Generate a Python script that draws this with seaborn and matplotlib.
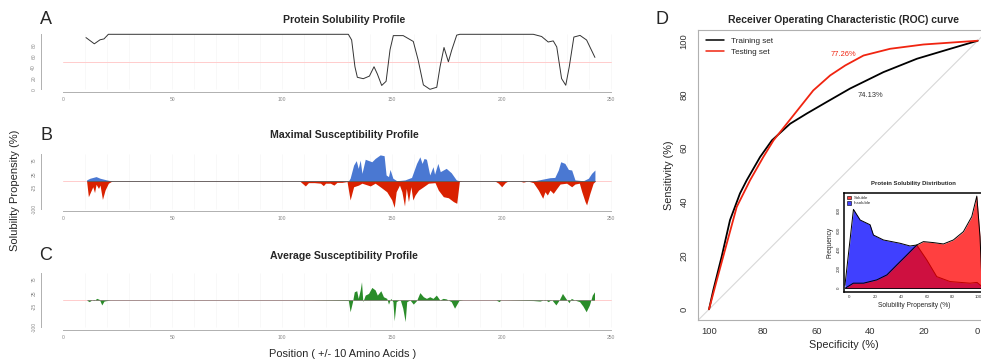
import numpy as np
import pandas as pd
import matplotlib
matplotlib.use("Agg")
import matplotlib.pyplot as plt
import seaborn as sns
from matplotlib.lines import Line2D
from matplotlib.patches import Patch

sns.set_style("white")
plt.rcParams['font.family'] = ['Liberation Sans', 'DejaVu Sans']

# ------------------------------------------------
# Data
# ------------------------------------------------
# A: protein solubility profile
pos_a = [10.6, 14.4, 17, 18.8, 20.8, 130.2, 131.7, 133.2, 134.3, 137, 139.8, 141.9, 143.4, 145.4,
         147.4, 149.2, 150.7, 155.2, 159.8, 162, 164.4, 167.4, 170.5, 172, 173.8, 175.8, 177.3,
         179.6, 181, 214.5, 218.3, 221.3, 223.6, 225.2, 227.4, 229.3, 230.9, 233, 235.8, 238.8, 242.6]
sol_a = [94, 82.7, 90, 91.6, 100, 100, 89.6, 41, 21.8, 19.3, 24, 41, 28, 7,
         14.5, 72, 97.6, 97.6, 87, 53.5, 8, 0, 3.7, 41, 76, 50, 71,
         98.5, 100, 100, 96, 86, 88, 77, 19.5, 7.4, 41, 95, 98, 89.6, 58]

# B: maximal susceptibility (positive / negative)
blue_x = [10.9, 12.4, 15.2, 17, 20, 22.3, 130.2, 131, 132.6, 133.8, 134.7, 135.6, 136.4, 137.9,
          140.9, 142.4, 144.7, 146.5, 147.4, 148.5, 149.2, 150.5, 152.3, 156, 159, 161.3, 162.8,
          163.8, 164.7, 165.8, 167.3, 168.8, 169.5, 171, 172.1, 174.8, 177.1, 179.4, 181, 214.5,
          218.3, 222.1, 224.3, 225.9, 227, 228.9, 230.5, 232, 233.5, 237.3, 239.6, 241.1, 242.6]
blue_y = [4, 10, 16, 10, 4, 0, 0, 10, 58, 74, 46, 76, 28, 79,
          70, 82, 95, 92, 22, 16, 42, 10, 1, 4, 13, 64, 88,
          64, 82, 79, 22, 52, 25, 64, 34, 46, 30, 4, 0, 0,
          6, 12, 13, 40, 70, 64, 42, 40, 4, 1, 10, 28, 40]
red_x = [10.9, 11.7, 12.7, 13.7, 14.5, 15.2, 16.3, 17, 18.1, 19.3, 20.8, 22.3, 23, 108, 110.6,
         112, 114.7, 117.5, 118.8, 119.8, 122, 123.6, 125, 127.3, 129.6, 131, 132.6, 134.8, 136.4,
         140.2, 142.4, 144.7, 147.7, 150, 151.1, 152, 153.5, 154.6, 155.8, 156.6, 157.6, 158.7,
         159.6, 160.6, 162.2, 164.4, 166.7, 169.7, 171.2, 173.5, 175.8, 178.1, 179.6, 180.8, 182,
         197, 198.6, 200.1, 201.7, 203, 208, 210, 212, 214.5, 216.8, 218.8, 219.8, 220.9, 222.1,
         223.6, 225.2, 226.7, 229.7, 232, 233.5, 235.5, 236.6, 238.1, 238.8, 240.3, 241.8, 242.6]
red_y = [-2, -57, -39, -21, -42, -12, -27, -15, -67, -33, -8, -1, 0, 0, -18,
         -6, -6, -8, -17, -8, -8, -15, -5, -5, -2, -69, -21, -15, -8,
         -18, -8, -21, -39, -69, -96, -39, -15, -39, -91, -27, -75, -21,
         -69, -51, -33, -21, -8, -6, -33, -57, -61, -75, -81, -2, 0,
         0, -8, -21, -6, 0, 0, -4, 0, -6, -33, -63, -39, -51, -33,
         -45, -27, -11, -8, -21, -11, -8, -39, -75, -87, -45, -8, -2]

# C: average susceptibility
green_x = [11.2, 12.1, 13.2, 14.3, 15.5, 16.7, 17.8, 18.8, 20.8, 21.6, 110, 130.2, 131, 132.1,
           132.9, 134, 134.7, 135.6, 136.2, 136.8, 137.9, 139.4, 140.9, 142.4, 143.4, 145, 146.2,
           147.7, 148.5, 149.5, 150.5, 151.1, 152, 153.8, 155, 156.1, 156.8, 158.3, 159.8, 161.3,
           162.8, 164.4, 165.8, 167.3, 168.8, 170.3, 171.9, 173.4, 174.8, 177.1, 178.6, 180.6,
           182.4, 197.5, 198.9, 199.7, 214.5, 217.5, 219.8, 221.3, 222.8, 224.8, 226.3, 227.8,
           229.3, 230.8, 231.8, 233.3, 235.6, 237.1, 238.6, 240.1, 241.4, 242.4]
green_y = [-2, -6, 0, -2, 6, 2, -18, -4, -1, 0, 0, -2, -43, -6,
           30, 34, 6, 37, 67, -6, 18, 24, 46, 37, 18, 34, 12,
           6, -15, 6, -6, -76, -6, 2, -30, -79, -6, 0, -15, -2,
           27, 12, 6, 12, 6, 18, 0, 6, 4, -6, -30, -2,
           0, 0, -6, 0, -2, -4, 2, -6, 2, -18, 0, 24,
           6, -10, 6, 0, -6, -22, -43, -18, 18, 30]

# D: ROC curves
spec_train = [100, 98.4, 95.3, 92.2, 88.5, 86, 81, 76.6, 69.8, 63.6, 56.2, 47.5, 35.1, 22.6, 10.2, 0]
sens_train = [0, 7.2, 19.6, 33.2, 43.1, 48, 56.7, 62.9, 69.1, 72.9, 77.2, 82.2, 88.3, 93.3, 97, 100]
spec_test = [100, 97.1, 93.4, 89.7, 84.7, 79.8, 76, 68.6, 61.2, 54.9, 49.3, 42.5, 32.6, 20.2, 0]
sens_test = [0, 10.9, 24.5, 38.1, 48.1, 56.7, 62.9, 72.2, 81.5, 87.1, 90.8, 94.5, 97, 98.6, 100]
auc_labels = ['77.26%', '74.13%']

# D inset: solubility distribution
sol_x = [-3.3, 3, 10.9, 21.2, 29, 36.7, 44.5, 52.2, 57.4, 65.1, 72.9, 80.6, 88.4, 94.9, 98.8, 101.3, 103]
sol_y = [0, 52, 52, 86, 137, 240, 343, 446, 481, 471, 457, 498, 584, 739, 951, 532, 0]
insol_x = [-3.5, 3.1, 8.3, 16, 18.6, 26.4, 39.3, 47, 52.2, 60, 67.7, 78, 93.5, 99, 103]
insol_y = [30, 814, 704, 655, 549, 498, 464, 436, 446, 292, 120, 69, 52, 60, 15]

# ------------------------------------------------
# Layout helpers (pixel boxes)
# ------------------------------------------------
W, H = 981, 359
fig = plt.figure(figsize=(W / 100, H / 100), dpi=100)


def px_axes(left, top, right, bottom):
    return fig.add_axes([left / W, 1 - bottom / H, (right - left) / W, (bottom - top) / H])


def fx(x):
    return x / W


def fy(y):
    return 1 - y / H


def style_profile(ax, ylim, yticks, ylabels):
    ax.set_xlim(-10, 260)
    ax.set_ylim(*ylim)
    ax.set_facecolor('none')
    for s in ['top', 'right']:
        ax.spines[s].set_visible(False)
    for s in ['left', 'bottom']:
        ax.spines[s].set_color('#b0b0b0')
        ax.spines[s].set_linewidth(0.7)
    ax.spines['left'].set_bounds(yticks[0], yticks[-1])
    ax.spines['bottom'].set_bounds(0, 250)
    ax.set_xticks([0, 50, 100, 150, 200, 250])
    ax.set_yticks(yticks)
    ax.set_yticklabels(ylabels, rotation=90, va='center')
    ax.tick_params(axis='both', length=2.2, width=0.5, color='#b0b0b0', labelsize=3.6,
                   labelcolor='#888888', pad=1.5, direction='out')
    ax.tick_params(axis='y', pad=1.0)
    ax.vlines(np.arange(10, 251, 10), yticks[0], yticks[-1], color='#f5f5f5', lw=0.5, zorder=0)
    ax.set_xlabel('')
    ax.set_ylabel('')


# ------------------------------------------------
# Panel A
# ------------------------------------------------
axA = px_axes(40.8, 32.1, 633.1, 91.5)
style_profile(axA, (-4, 104), [0, 20, 40, 60, 80, 100], ['0', '20', '40', '60', '80', ''])
axA.axhline(50, xmin=10 / 270, xmax=260 / 270, color='#ffcccc', lw=0.7, zorder=1)
sns.lineplot(x=pos_a, y=sol_a, ax=axA, color='#333333', linewidth=0.7, sort=False)
axA.set_xlabel('')
axA.set_ylabel('')

# ------------------------------------------------
# Panel B
# ------------------------------------------------
b_ticks = [-100, -75, -50, -25, 0, 25, 50, 75, 100]
b_labels = ['-100', '', '', '-25', '', '25', '', '75', '']
axB = px_axes(40.8, 151.3, 633.1, 210.7)
style_profile(axB, (-108, 108), b_ticks, b_labels)
axB.axhline(0, xmin=10 / 270, xmax=260 / 270, color='#ffcccc', lw=0.7, zorder=1)
axB.fill_between(blue_x, 0, blue_y, color='#4a78d2', lw=0, zorder=2)
axB.fill_between(red_x, red_y, 0, color='#d92100', lw=0, zorder=2)
sns.lineplot(x=[10.9, 242.6], y=[0, 0], ax=axB, color='#555555', linewidth=0.6)
axB.set_xlabel('')
axB.set_ylabel('')

# ------------------------------------------------
# Panel C
# ------------------------------------------------
axC = px_axes(40.8, 270.5, 633.1, 329.5)
style_profile(axC, (-108, 108), b_ticks, b_labels)
axC.axhline(0, xmin=10 / 270, xmax=260 / 270, color='#ffcccc', lw=0.7, zorder=1)
axC.fill_between(green_x, 0, green_y, color='#2a8c2a', lw=0, zorder=2)
sns.lineplot(x=[11.2, 242.4], y=[0, 0], ax=axC, color='#666666', linewidth=0.4)
axC.set_xlabel('')
axC.set_ylabel('')

# titles, letters, shared labels
for letter, title, y in [('A', 'Protein Solubility Profile', 20),
                         ('B', 'Maximal Susceptibility Profile', 135),
                         ('C', 'Average Susceptibility Profile', 256)]:
    fig.text(fx(46), fy(y), letter, fontsize=13, ha='center', va='center')
    fig.text(fx(344), fy(y), title, fontsize=7.6, fontweight='bold', ha='center', va='center')

fig.text(fx(15), fy(190), 'Solubility Propensity (%)', fontsize=8, rotation=90,
         ha='center', va='center')
fig.text(fx(343), fy(354), 'Position ( +/- 10 Amino Acids )', fontsize=7.9,
         ha='center', va='center')

# ------------------------------------------------
# Panel D: ROC
# ------------------------------------------------
axD = px_axes(698.3, 30, 988.4, 320)
axD.set_xlim(104, -4)
axD.set_ylim(-4, 104)
axD.plot([104, -4], [-4, 104], color='#d8d8d8', lw=0.8, zorder=1)
sns.lineplot(x=spec_train, y=sens_train, ax=axD, color='black', linewidth=1.3, sort=False, zorder=3)
sns.lineplot(x=spec_test, y=sens_test, ax=axD, color='#f02410', linewidth=1.3, sort=False, zorder=3)
axD.text(50, 94.8, auc_labels[0], color='#f02410', fontsize=5.4, ha='center', va='center')
axD.text(40, 79.7, auc_labels[1], color='#333333', fontsize=5.4, ha='center', va='center')
axD.set_xticks([100, 80, 60, 40, 20, 0])
axD.set_yticks([0, 20, 40, 60, 80, 100])
axD.set_yticklabels(['0', '20', '40', '60', '80', '100'], rotation=90, va='center')
axD.tick_params(axis='both', length=3, width=0.6, color='#999999', labelsize=6.8,
                labelcolor='#333333', pad=2, direction='out')
axD.tick_params(axis='y', pad=4)
for s in axD.spines.values():
    s.set_color('#b0b0b0')
    s.set_linewidth(0.8)
axD.set_xlabel('Specificity (%)', fontsize=7.8, labelpad=3)
axD.set_ylabel('Sensitivity (%)', fontsize=7.8, labelpad=4)
handles = [Line2D([], [], color='black', lw=1.1), Line2D([], [], color='#f02410', lw=1.1)]
axD.legend(handles, ['Training set', 'Testing set'], loc='upper left', bbox_to_anchor=(0.0, 1.0),
           frameon=False, fontsize=5.9, handlelength=2.2, handletextpad=0.9, labelspacing=0.35,
           borderaxespad=0.7, borderpad=0.2)
fig.text(fx(661.7), fy(20), 'D', fontsize=13, ha='center', va='center')
fig.text(fx(843), fy(20), 'Receiver Operating Characteristic (ROC) curve', fontsize=7.5,
         fontweight='bold', ha='center', va='center')

# ------------------------------------------------
# Inset: solubility distribution
# ------------------------------------------------
axI = px_axes(844.3, 192.7, 983.5, 291.7)
axI.set_xlim(-4, 104)
axI.set_ylim(-36, 986)
axI.fill_between(insol_x, 0, insol_y, color='#0000ff', alpha=0.75, lw=0, zorder=2)
sns.lineplot(x=insol_x, y=insol_y, ax=axI, color='black', linewidth=0.7, sort=False, zorder=2)
axI.fill_between(sol_x, 0, sol_y, color='#ff0000', alpha=0.75, lw=0, zorder=3)
sns.lineplot(x=sol_x, y=sol_y, ax=axI, color='black', linewidth=0.7, sort=False, zorder=3)
axI.plot([-3.5, 103], [0, 0], color='black', lw=0.6, zorder=4)
axI.set_xticks([0, 20, 40, 60, 80, 100])
axI.set_yticks([0, 200, 400, 600, 800])
axI.set_yticklabels(['0', '200', '400', '600', '800'], rotation=90, va='center')
axI.tick_params(axis='both', length=1.5, width=0.4, color='#333333', labelsize=3.2,
                labelcolor='#333333', pad=1.2, direction='out')
for s in axI.spines.values():
    s.set_color('black')
    s.set_linewidth(1.1)
axI.set_xlabel('Solubility Propensity (%)', fontsize=4.8, labelpad=2)
axI.set_ylabel('Frequency', fontsize=4.8, labelpad=2)
axI.legend([Patch(facecolor='#ff4040', edgecolor='black', lw=0.4),
            Patch(facecolor='#4040ff', edgecolor='black', lw=0.4)],
           ['Soluble', 'Insoluble'], loc='upper left', frameon=False, fontsize=3.2,
           handlelength=0.8, handleheight=0.8, handletextpad=0.6, labelspacing=0.25,
           borderaxespad=0.3)
fig.text(fx(913), fy(183.3), 'Protein Solubility Distribution', fontsize=4.3,
         fontweight='bold', ha='center', va='center')

fig.savefig('out.png', dpi=100)
